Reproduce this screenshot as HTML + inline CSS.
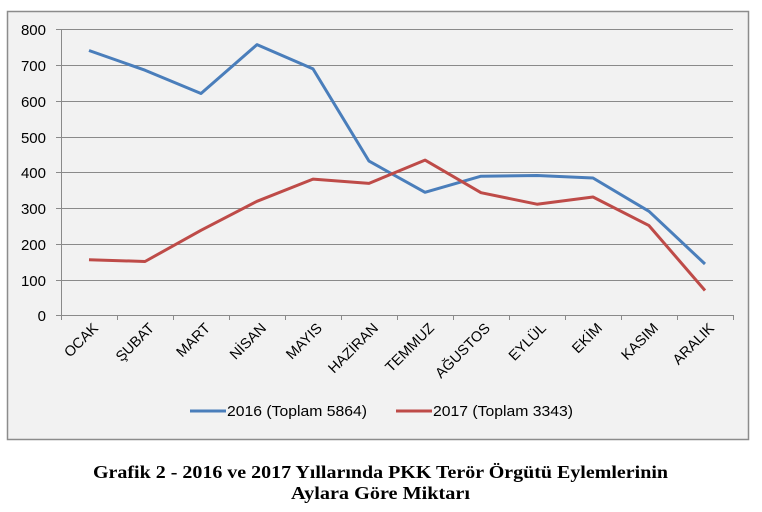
<!DOCTYPE html><html><head><style>body{margin:0;background:#fff;width:762px;height:512px;overflow:hidden}</style></head><body>
<svg width="762" height="512" xmlns="http://www.w3.org/2000/svg" style="position:absolute;left:0;top:0">
<rect x="7.5" y="11.5" width="741" height="428" fill="#f2f2f2" stroke="#8c8c8c" stroke-width="1.5"/>
<g stroke="#8a8a8a" stroke-width="1">
<line x1="56" x2="733" y1="29.5" y2="29.5"/><line x1="56" x2="733" y1="65.5" y2="65.5"/><line x1="56" x2="733" y1="101.5" y2="101.5"/><line x1="56" x2="733" y1="137.5" y2="137.5"/><line x1="56" x2="733" y1="172.5" y2="172.5"/><line x1="56" x2="733" y1="208.5" y2="208.5"/><line x1="56" x2="733" y1="244.5" y2="244.5"/><line x1="56" x2="733" y1="280.5" y2="280.5"/><line x1="56" x2="733" y1="315.5" y2="315.5"/>
<line x1="61.5" x2="61.5" y1="29" y2="320"/>
<line x1="117.5" x2="117.5" y1="315" y2="320"/><line x1="173.5" x2="173.5" y1="315" y2="320"/><line x1="229.5" x2="229.5" y1="315" y2="320"/><line x1="285.5" x2="285.5" y1="315" y2="320"/><line x1="341.5" x2="341.5" y1="315" y2="320"/><line x1="397.5" x2="397.5" y1="315" y2="320"/><line x1="453.5" x2="453.5" y1="315" y2="320"/><line x1="509.5" x2="509.5" y1="315" y2="320"/><line x1="565.5" x2="565.5" y1="315" y2="320"/><line x1="621.5" x2="621.5" y1="315" y2="320"/><line x1="677.5" x2="677.5" y1="315" y2="320"/><line x1="733.5" x2="733.5" y1="315" y2="320"/>
</g>
<g font-family="Liberation Sans, sans-serif" font-size="15" fill="#000" text-anchor="end">
<text x="46" y="35">800</text><text x="46" y="71">700</text><text x="46" y="107">600</text><text x="46" y="143">500</text><text x="46" y="178">400</text><text x="46" y="214">300</text><text x="46" y="250">200</text><text x="46" y="286">100</text><text x="46" y="321">0</text>
</g>
<polyline fill="none" stroke="#4a7ebb" stroke-width="3" stroke-linejoin="round" points="89,50.5 145,70.2 201,93.5 257,44.6 313,68.9 369,161.1 425,192.3 481,176.2 537,175.5 593,178 649,211.3 705,264"/>
<polyline fill="none" stroke="#be4b48" stroke-width="3" stroke-linejoin="round" points="89,259.7 145,261.5 201,230.3 257,201.3 313,179.1 369,183.4 425,160.1 481,192.7 537,204.2 593,197 649,225.6 705,290.5"/>
<g font-family="Liberation Sans, sans-serif" font-size="14.5" fill="#000" text-anchor="end">
<text transform="translate(99,329) rotate(-45)">OCAK</text>
<text transform="translate(155,329) rotate(-45)">ŞUBAT</text>
<text transform="translate(211,329) rotate(-45)">MART</text>
<text transform="translate(267,329) rotate(-45)">NİSAN</text>
<text transform="translate(323,329) rotate(-45)">MAYIS</text>
<text transform="translate(379,329) rotate(-45)">HAZİRAN</text>
<text transform="translate(435,329) rotate(-45)">TEMMUZ</text>
<text transform="translate(491,329) rotate(-45)">AĞUSTOS</text>
<text transform="translate(547,329) rotate(-45)">EYLÜL</text>
<text transform="translate(603,329) rotate(-45)">EKİM</text>
<text transform="translate(659,329) rotate(-45)">KASIM</text>
<text transform="translate(715,329) rotate(-45)">ARALIK</text>
</g>
<line x1="190" x2="226" y1="411" y2="411" stroke="#4a7ebb" stroke-width="3"/>
<line x1="396" x2="432" y1="411" y2="411" stroke="#be4b48" stroke-width="3"/>
<g font-family="Liberation Sans, sans-serif" font-size="15" fill="#000">
<text x="227" y="416" textLength="140" lengthAdjust="spacingAndGlyphs">2016 (Toplam 5864)</text>
<text x="433" y="416" textLength="140" lengthAdjust="spacingAndGlyphs">2017 (Toplam 3343)</text>
</g>
<g font-family="Liberation Serif, serif" font-size="18" font-weight="bold" fill="#000">
<text x="93" y="478" textLength="575" lengthAdjust="spacingAndGlyphs">Grafik 2 - 2016 ve 2017 Yıllarında PKK Terör Örgütü Eylemlerinin</text>
<text x="291" y="499" textLength="179" lengthAdjust="spacingAndGlyphs">Aylara Göre Miktarı</text>
</g>
</svg></body></html>
